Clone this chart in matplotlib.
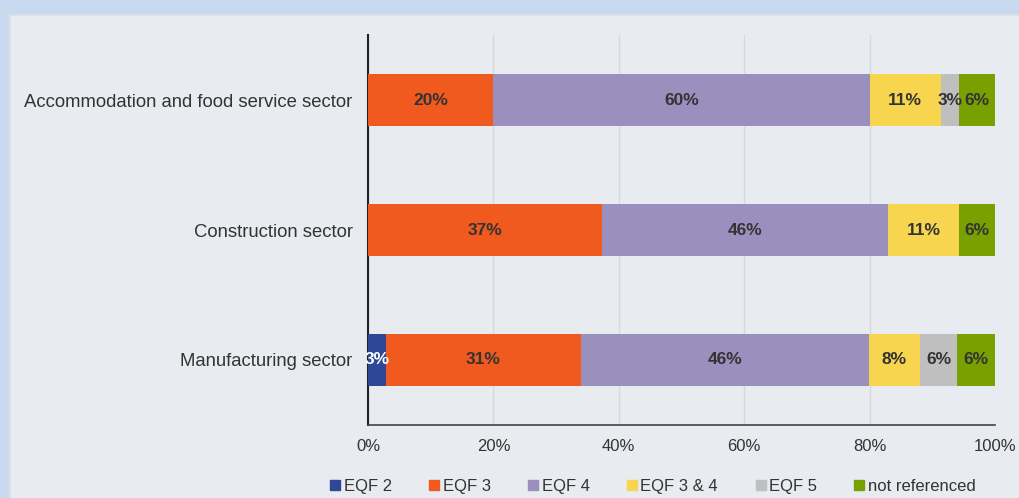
import matplotlib
matplotlib.use("Agg")

import matplotlib.pyplot as plt
import numpy as np
from matplotlib.lines import Line2D
from matplotlib.patches import Rectangle
from matplotlib.ticker import FuncFormatter

plt.rcParams["font.family"] = ["Liberation Sans", "DejaVu Sans"]

# bottom to top
sectors = ["Manufacturing sector", "Construction sector",
           "Accommodation and food service sector"]
series = ["EQF 2", "EQF 3", "EQF 4", "EQF 3 & 4", "EQF 5", "not referenced"]
eqf2 = [2.9, 0, 0]
eqf3 = [31.0, 37.3, 20.0]
eqf4 = [46.0, 45.6, 60.0]
eqf34 = [8.1, 11.4, 11.4]
eqf5 = [6.0, 0, 2.9]
not_ref = [6.0, 5.7, 5.7]

COLORS = ["#2e4797", "#f05a1e", "#9a8fbd", "#f7d54e", "#bfbfbf", "#78a100"]
LABEL_COLORS = ["white", "#333333", "#333333", "#333333", "#333333", "#333333"]

fig = plt.figure(figsize=(10.2, 4.98), dpi=100)
fig.patch.set_facecolor("#c7daf0")
panel = Rectangle((10 / 1020, -0.01), 1.0, 1 - 15 / 498 + 0.01,
                  transform=fig.transFigure, facecolor="#e8ebef",
                  edgecolor="#dde0e4", linewidth=1.5, zorder=-10)
fig.add_artist(panel)

ax = fig.add_axes([368 / 1020, 1 - 425 / 498, 627 / 1020, 390 / 498])
ax.set_facecolor("none")

y = np.arange(len(sectors))
left = np.zeros(len(sectors))
for vals, name, col, tcol in zip([eqf2, eqf3, eqf4, eqf34, eqf5, not_ref],
                                 series, COLORS, LABEL_COLORS):
    vals = np.array(vals)
    ax.barh(y, vals, left=left, height=0.4, color=col, label=name, zorder=3)
    for yi, (l, v) in enumerate(zip(left, vals)):
        if v > 0:
            ax.text(l + v / 2, yi, f"{v:.0f}%", ha="center", va="center",
                    fontsize=12.5, fontweight="bold", color=tcol, zorder=4)
    left += vals

ax.set_xlim(0, 100)
ax.set_ylim(-0.5, 2.5)
ax.set_xticks(np.arange(0, 101, 20))
ax.xaxis.set_major_formatter(FuncFormatter(lambda v, _: f"{v:.0f}%"))
ax.set_yticks(y)
ax.set_yticklabels(sectors)
ax.tick_params(axis="both", length=0, labelsize=12, colors="#333333")
ax.tick_params(axis="y", pad=11, labelsize=13.3)
ax.tick_params(axis="x", pad=10)
ax.grid(axis="x", color="#d6d8dc", linewidth=1, zorder=0)
for s in ["top", "right"]:
    ax.spines[s].set_visible(False)
ax.spines["left"].set_color("#222222")
ax.spines["left"].set_linewidth(1.5)
ax.spines["bottom"].set_color("#444444")
ax.spines["bottom"].set_linewidth(1.2)

handles = [Line2D([], [], marker="s", linestyle="none", markersize=7.5,
                  markerfacecolor=c, markeredgecolor=c) for c in COLORS]
fig.legend(handles, series, loc="center", bbox_to_anchor=(653 / 1020, 1 - 486 / 498),
           ncol=6, frameon=False, fontsize=12, handlelength=0.6, handletextpad=0.2,
           columnspacing=2.25, labelcolor="#333333")

fig.savefig("out.png", dpi=100, facecolor=fig.get_facecolor())
